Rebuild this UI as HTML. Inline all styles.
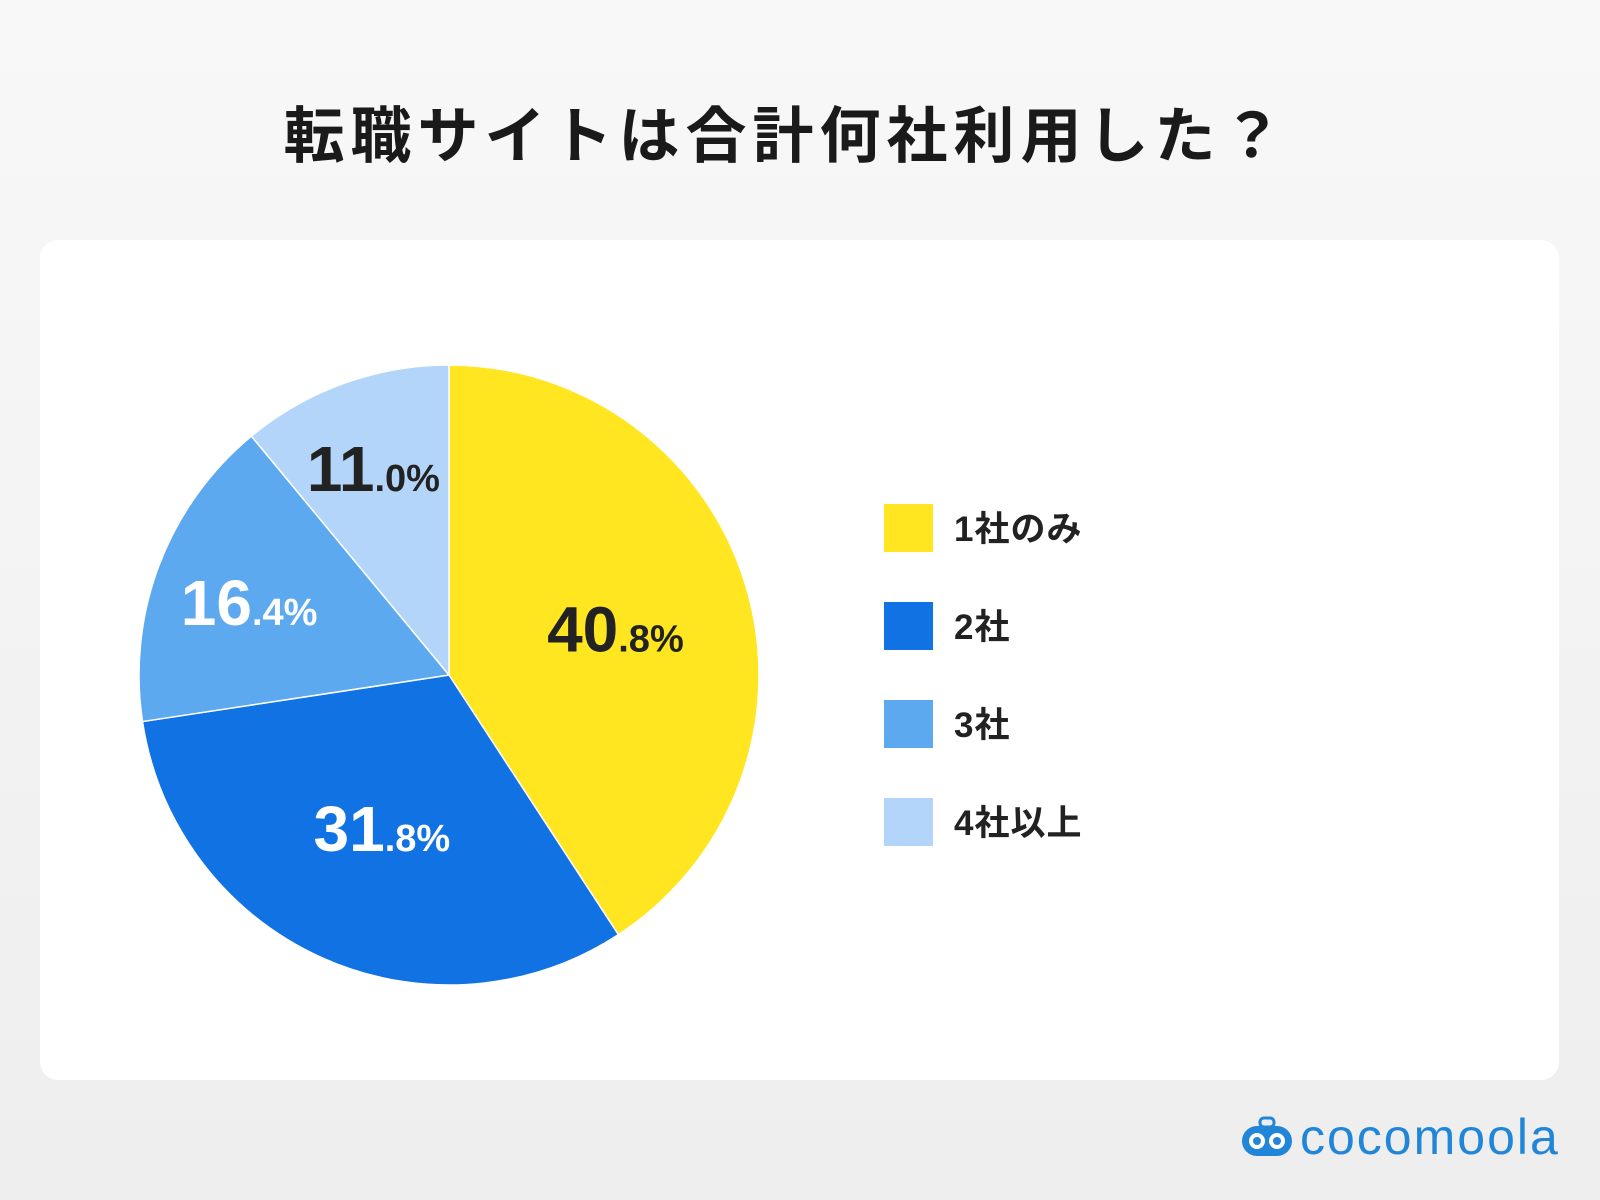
<!DOCTYPE html>
<html><head><meta charset="utf-8">
<style>
html,body{margin:0;padding:0}
body{width:1600px;height:1200px;position:relative;overflow:hidden;background:linear-gradient(#f8f8f8,#eeeeee);font-family:"Liberation Sans","Noto Sans CJK JP",sans-serif}
#title{position:absolute;left:0;width:1572px;top:86px;text-align:center;font-size:61px;font-weight:bold;color:#1a1a1a;letter-spacing:6px;font-family:"Liberation Sans","Noto Sans CJK JP",sans-serif}
#card{position:absolute;left:40px;top:240px;width:1519px;height:840px;background:#fff;border-radius:18px}
#logo{position:absolute;left:1240px;top:1108px;font-size:50px;color:#2186d8;font-family:"Liberation Sans",sans-serif;letter-spacing:2px}
</style></head><body>
<div id="title">転職サイトは合計何社利用した？</div>
<div id="card"></div>
<svg id="chart" width="1600" height="1200" style="position:absolute;left:0;top:0"></svg>
<div id="logo"><svg width="54" height="44" viewBox="0 0 54 44" style="vertical-align:-6px;margin-right:6px"><rect x="2" y="10" width="50" height="30" rx="15" fill="#2186d8"/><circle cx="17" cy="25" r="8" fill="#fff"/><circle cx="37" cy="25" r="8" fill="#fff"/><circle cx="17" cy="25" r="4" fill="#2186d8"/><circle cx="37" cy="25" r="4" fill="#2186d8"/><rect x="20" y="2" width="14" height="9" rx="4" fill="none" stroke="#2186d8" stroke-width="3"/></svg>cocomoola</div>
<script>
const categories=["1社のみ","2社","3社","4社以上"];
const values=[40.8,31.8,16.4,11.0];
const colors=["#FFE621","#1172E4","#5DA9F0","#B4D5FA"];
const labelColors=["#222","#fff","#fff","#222"];
const labelRadius=[0.56,0.53,0.69,0.72];
const svg=document.getElementById('chart');
const NS="http://www.w3.org/2000/svg";
const cx=449,cy=675,R=310;
const total=values.reduce((a,b)=>a+b,0);
function pt(a,r){return [cx+r*Math.sin(a),cy-r*Math.cos(a)];}
let acc=0;
values.forEach((v,i)=>{
  const a0=acc/total*2*Math.PI;acc+=v;const a1=acc/total*2*Math.PI;
  const p0=pt(a0,R),p1=pt(a1,R);
  const path=document.createElementNS(NS,'path');
  path.setAttribute('d',`M${cx},${cy}L${p0[0]},${p0[1]}A${R},${R} 0 ${a1-a0>Math.PI?1:0} 1 ${p1[0]},${p1[1]}Z`);
  path.setAttribute('fill',colors[i]);
  path.setAttribute('stroke','#fff');path.setAttribute('stroke-width','1.5');
  
  
  svg.appendChild(path);
  const am=(a0+a1)/2;const lp=pt(am,R*labelRadius[i]);
  const t=document.createElementNS(NS,'text');
  t.setAttribute('x',lp[0]);t.setAttribute('y',lp[1]+26);
  t.setAttribute('text-anchor','middle');t.setAttribute('fill',labelColors[i]);
  t.setAttribute('font-family','"Liberation Sans Narrow","Liberation Sans",sans-serif');
  t.setAttribute('font-weight','bold');
  
  
  const s=v.toFixed(1).split('.');
  const b=document.createElementNS(NS,'tspan');b.setAttribute('font-size','64');b.textContent=s[0];
  const sm=document.createElementNS(NS,'tspan');sm.setAttribute('font-size','38');sm.textContent='.'+s[1]+'%';
  t.appendChild(b);t.appendChild(sm);svg.appendChild(t);
});
categories.forEach((c,i)=>{
  const y=504+i*98;
  const r=document.createElementNS(NS,'rect');
  r.setAttribute('x',884);r.setAttribute('y',y);r.setAttribute('width',49);r.setAttribute('height',48);
  r.setAttribute('fill',colors[i]);
  
  
  svg.appendChild(r);
  const t=document.createElementNS(NS,'text');
  t.setAttribute('x',954);t.setAttribute('y',y+37);
  t.setAttribute('font-size','35');t.setAttribute('font-weight','bold');t.setAttribute('fill','#222');
  t.setAttribute('letter-spacing','1');
  t.setAttribute('font-family','"Liberation Sans","Noto Sans CJK JP",sans-serif');
  
  
  t.textContent=c;svg.appendChild(t);
});
</script>
</body></html>
